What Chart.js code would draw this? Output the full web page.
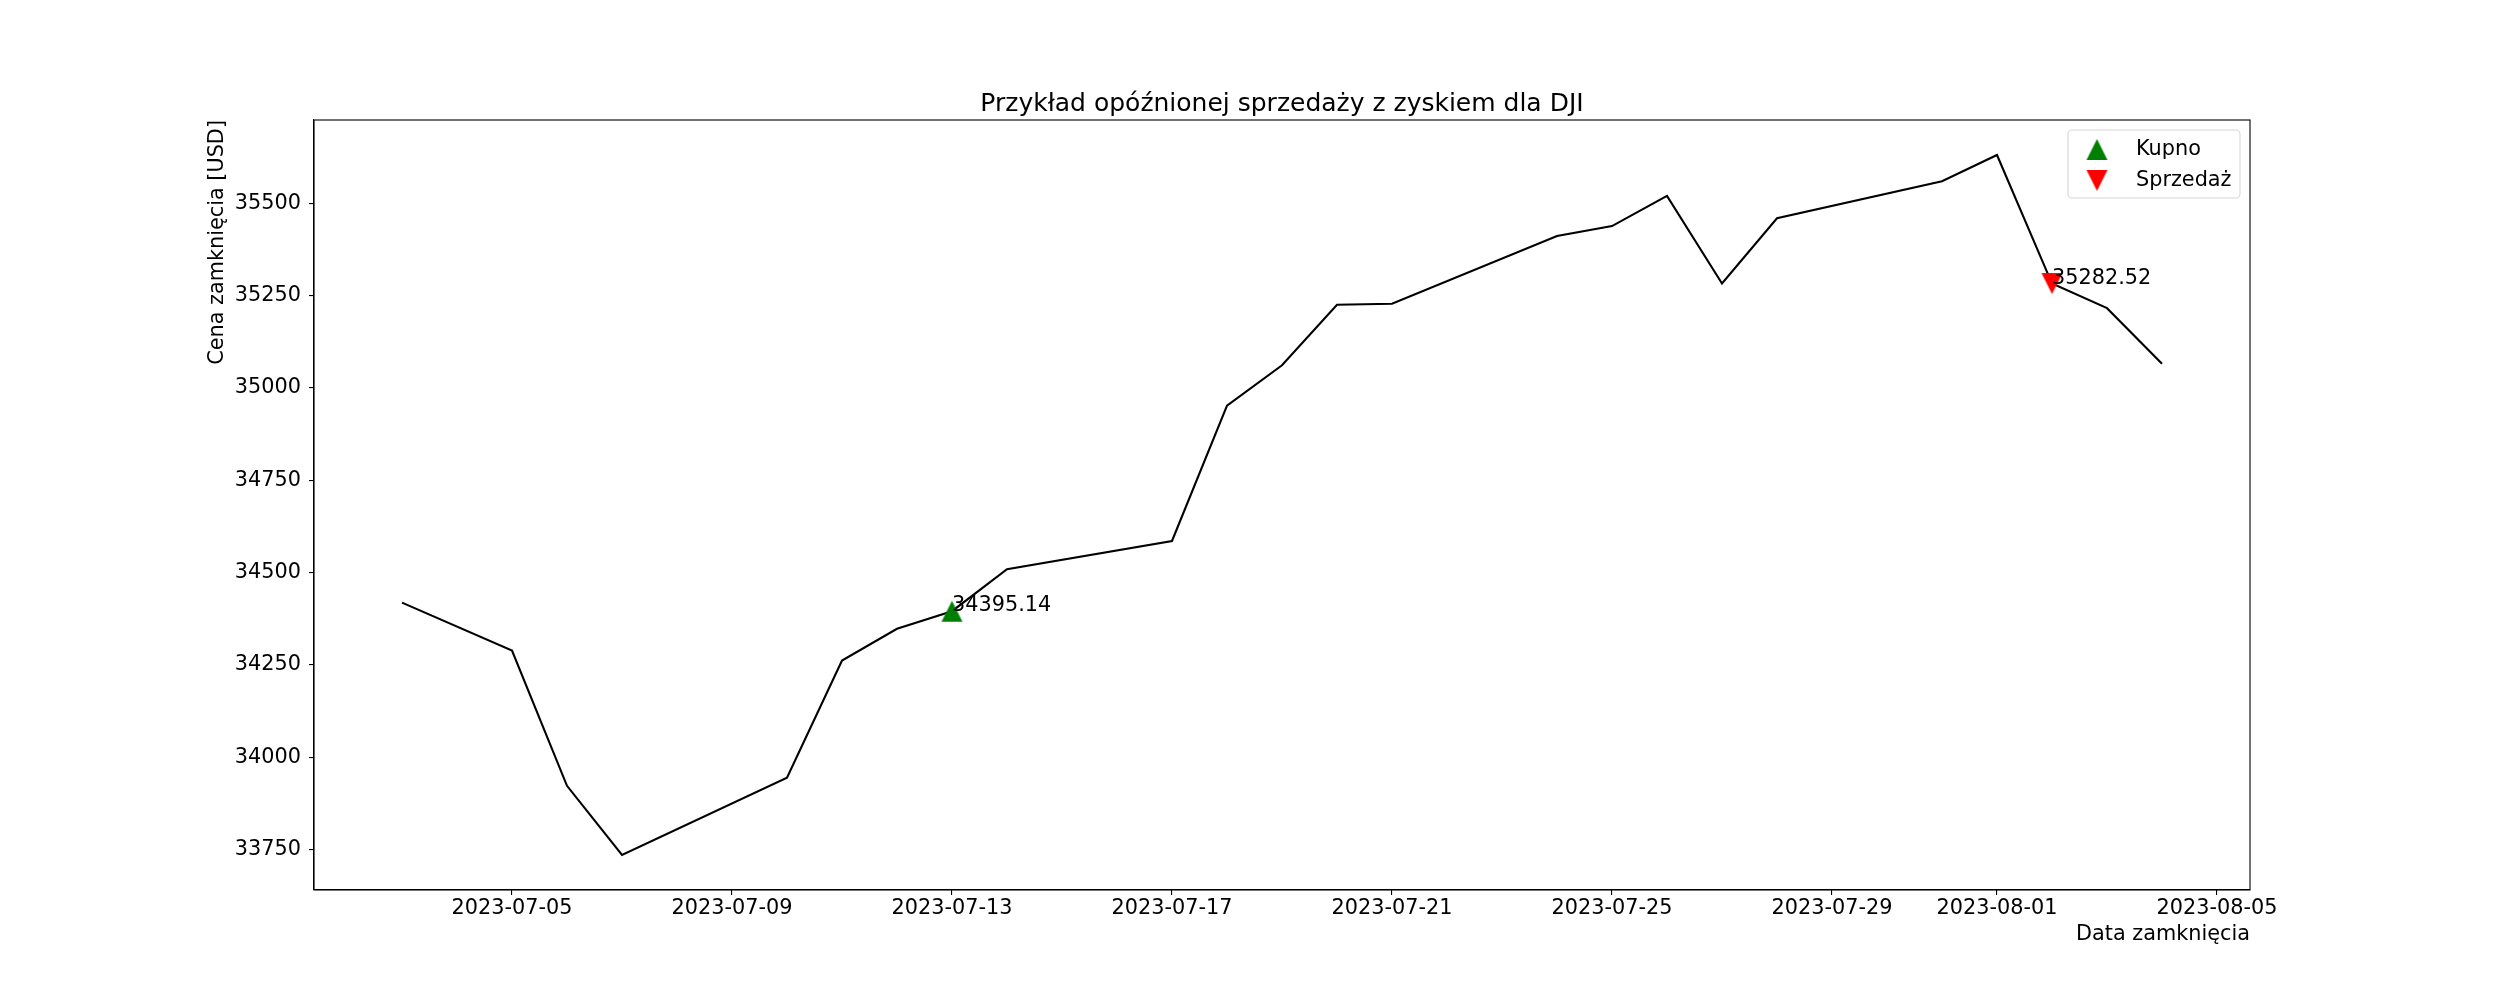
<!DOCTYPE html>
<html>
<head>
<meta charset="utf-8">
<title>DJI</title>
<script src="https://cdn.jsdelivr.net/npm/chart.js@4.4.1/dist/chart.umd.min.js"></script>
<style>
  html, body { margin: 0; padding: 0; background: #fff; }
  #wrap { width: 2500px; height: 1000px; }
</style>
</head>
<body>
<div id="wrap"><canvas id="chart" width="2500" height="1000"></canvas></div>
<script>
// closing prices
const dates = ['2023-07-03', '2023-07-05', '2023-07-06', '2023-07-07', '2023-07-10', '2023-07-11',
  '2023-07-12', '2023-07-13', '2023-07-14', '2023-07-17', '2023-07-18', '2023-07-19',
  '2023-07-20', '2023-07-21', '2023-07-24', '2023-07-25', '2023-07-26', '2023-07-27',
  '2023-07-28', '2023-07-31', '2023-08-01', '2023-08-02', '2023-08-03', '2023-08-04'];
const closes = [34418.47, 34288.64, 33922.26, 33734.88, 33944.40, 34261.42,
  34347.43, 34395.14, 34509.03, 34585.35, 34951.93, 35061.21,
  35225.18, 35227.69, 35411.24, 35438.07, 35520.12, 35282.72,
  35459.29, 35559.53, 35630.68, 35282.52, 35215.89, 35065.62];
const buyDates = ['2023-07-13'];
const buyPrices = [34395.14];
const sellDates = ['2023-08-02'];
const sellPrices = [35282.52];
const xTickLabels = ['2023-07-05', '2023-07-09', '2023-07-13', '2023-07-17', '2023-07-21',
  '2023-07-25', '2023-07-29', '2023-08-01', '2023-08-05'];
const yTicks = [33750, 34000, 34250, 34500, 34750, 35000, 35250, 35500];

const FONT = { family: '"DejaVu Sans", sans-serif', size: 20.8, weight: 'normal' };
const TITLE_FONT = { family: '"DejaVu Sans", sans-serif', size: 25, weight: 'normal' };
const dayNum = s => Date.parse(s + 'T00:00:00Z') / 86400000;

// matplotlib style 5% margins
const xs = dates.map(dayNum);
const xPad = (xs[xs.length - 1] - xs[0]) * 0.05;
const yLo = Math.min(...closes), yHi = Math.max(...closes);
const yPad = (yHi - yLo) * 0.05;

const toPoints = (ds, vs) => ds.map((d, i) => ({ x: dayNum(d), y: vs[i] }));

// triangle marker centred on its bounding box, like matplotlib '^' / 'v'
function markerImage(color, down) {
  const size = 21, c = document.createElement('canvas');
  c.width = size + 2; c.height = size + 2;
  const g = c.getContext('2d');
  const x0 = 1, y0 = 1;
  g.fillStyle = color;
  g.beginPath();
  if (down) {
    g.moveTo(x0, y0); g.lineTo(x0 + size, y0); g.lineTo(x0 + size / 2, y0 + size);
  } else {
    g.moveTo(x0 + size / 2, y0); g.lineTo(x0 + size, y0 + size); g.lineTo(x0, y0 + size);
  }
  g.closePath();
  g.fill();
  return c;
}
const buyMarker = markerImage('#008000', false);
const sellMarker = markerImage('#ff0000', true);

const extras = {
  id: 'extras',
  afterDatasetsDraw(chart) {
    const { ctx, chartArea: a, scales: { x, y } } = chart;
    ctx.save();
    // box around the axes
    ctx.strokeStyle = '#000';
    ctx.lineWidth = 1.1;
    ctx.strokeRect(a.left, a.top, a.right - a.left, a.bottom - a.top);

    // price labels next to the markers
    ctx.font = FONT.size + 'px ' + FONT.family;
    ctx.fillStyle = '#000';
    ctx.textAlign = 'left';
    ctx.textBaseline = 'alphabetic';
    buyDates.forEach((d, i) => ctx.fillText(buyPrices[i].toFixed(2), x.getPixelForValue(dayNum(d)), y.getPixelForValue(buyPrices[i])));
    sellDates.forEach((d, i) => ctx.fillText(sellPrices[i].toFixed(2), x.getPixelForValue(dayNum(d)), y.getPixelForValue(sellPrices[i])));

    // legend, upper right
    const w = 172, h = 68;
    const lx = a.right - 10 - w, ly = a.top + 10;
    ctx.fillStyle = 'rgba(255,255,255,0.8)';
    ctx.strokeStyle = '#d6d6d6';
    ctx.lineWidth = 1.1;
    ctx.beginPath();
    ctx.roundRect(lx, ly, w, h, 4);
    ctx.fill();
    ctx.stroke();
    const items = chart.data.datasets.filter(ds => ds.inLegend);
    items.forEach((ds, i) => {
      const cy = ly + 19.5 + i * 31;
      const img = ds.pointStyle;
      ctx.drawImage(img, lx + 29 - img.width / 2, cy - img.height / 2);
      ctx.fillStyle = '#000';
      ctx.textBaseline = 'middle';
      ctx.fillText(ds.label, lx + 68, cy);
    });
    ctx.restore();
  }
};

new Chart(document.getElementById('chart'), {
  type: 'line',
  data: {
    datasets: [
      {
        label: 'DJI',
        data: toPoints(dates, closes),
        borderColor: '#000',
        borderWidth: 2.1,
        pointRadius: 0,
        tension: 0,
        order: 2
      },
      {
        label: 'Kupno',
        inLegend: true,
        data: toPoints(buyDates, buyPrices),
        showLine: false,
        pointStyle: buyMarker,
        pointRadius: 11,
        backgroundColor: '#008000',
        borderColor: '#008000',
        order: 1
      },
      {
        label: 'Sprzedaż',
        inLegend: true,
        data: toPoints(sellDates, sellPrices),
        showLine: false,
        pointStyle: sellMarker,
        pointRadius: 11,
        backgroundColor: '#ff0000',
        borderColor: '#ff0000',
        order: 1
      }
    ]
  },
  options: {
    responsive: false,
    animation: false,
    devicePixelRatio: 1,
    events: [],
    layout: { padding: { left: 0, right: 250, top: 0, bottom: 0 } },
    plugins: {
      legend: { display: false },
      tooltip: { enabled: false },
      title: {
        display: true,
        fullSize: false,
        text: 'Przykład opóźnionej sprzedaży z zyskiem dla DJI',
        color: '#000',
        font: TITLE_FONT,
        padding: { top: 89.5, bottom: 0.5 }
      }
    },
    scales: {
      x: {
        type: 'linear',
        min: xs[0] - xPad,
        max: xs[xs.length - 1] + xPad,
        afterBuildTicks: s => { s.ticks = xTickLabels.map(d => ({ value: dayNum(d) })); },
        afterFit: s => { s.height = 110; },
        ticks: {
          callback: (v, i) => xTickLabels[i],
          autoSkip: false,
          maxRotation: 0,
          color: '#000',
          font: FONT,
          padding: 1
        },
        grid: { drawOnChartArea: false, drawTicks: true, tickLength: 5, color: '#000', lineWidth: 1.1 },
        border: { color: '#000', width: 1.1 },
        title: {
          display: true,
          text: 'Data zamknięcia',
          align: 'end',
          color: '#000',
          font: FONT,
          padding: { top: 0, bottom: 52.5 }
        }
      },
      y: {
        min: yLo - yPad,
        max: yHi + yPad,
        afterBuildTicks: s => { s.ticks = yTicks.map(v => ({ value: v })); },
        afterFit: s => { s.width = 314; },
        ticks: {
          callback: v => String(v),
          color: '#000',
          font: FONT,
          padding: 8
        },
        grid: { drawOnChartArea: false, drawTicks: true, tickLength: 5, color: '#000', lineWidth: 1.1 },
        border: { color: '#000', width: 1.1 },
        title: {
          display: true,
          text: 'Cena zamknięcia [USD]',
          align: 'end',
          color: '#000',
          font: FONT,
          padding: { top: 205.5, bottom: 0 }
        }
      }
    }
  },
  plugins: [extras]
});
</script>
</body>
</html>
